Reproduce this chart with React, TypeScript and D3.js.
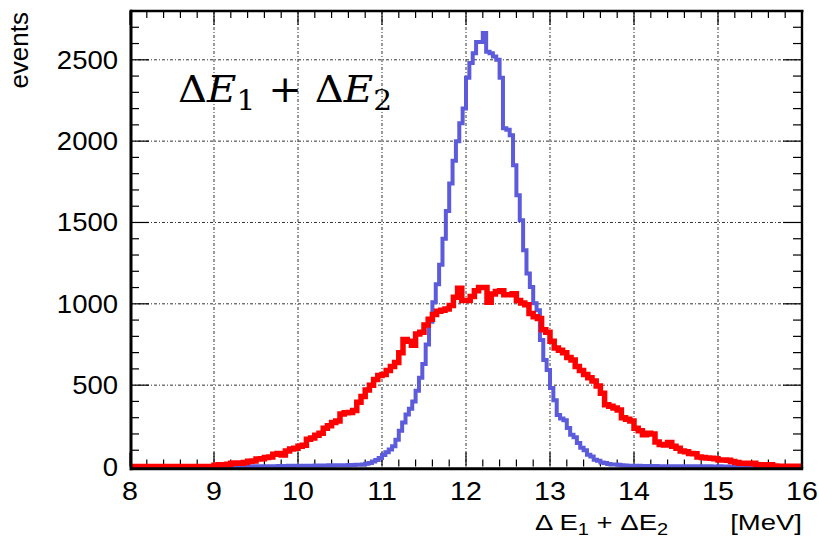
import React from 'react';
import * as d3 from 'd3';

const X_MIN = 8;
const X_MAX = 16;
const Y_MAX = 2800;
const xTickValues = [8, 9, 10, 11, 12, 13, 14, 15, 16];
const yTickValues = [0, 500, 1000, 1500, 2000, 2500];
const xTitle = 'Δ E';
const yTitle = 'events';
const unitLabel = '[MeV]';

// blue histogram: 200 bins of 0.04 MeV from 8 to 16
const blueBinWidth = 0.04;
const blueCounts = [
  0, 0, 0, 0, 0, 0, 0, 0, 0, 0, 0, 0, 0, 0, 0, 0, 0, 0, 0, 0,
  0, 0, 0, 0, 0, 0, 0, 0, 0, 0, 0, 0, 1, 0, 1, 1, 1, 1, 2, 1,
  2, 2, 2, 2, 3, 3, 3, 4, 3, 4, 4, 5, 4, 5, 5, 6, 5, 6, 6, 7,
  6, 7, 7, 8, 8, 9, 9, 10, 10, 12, 17, 22, 30, 40, 52, 70, 88, 105, 125, 165,
  220, 270, 320, 355, 400, 465, 545, 630, 750, 890, 1010, 1120, 1240, 1400, 1570, 1740, 1880, 2000, 2110, 2200,
  2390, 2480, 2540, 2610, 2610, 2665, 2550, 2540, 2520, 2500, 2390, 2080, 2070, 2036, 1852, 1668, 1514, 1330, 1187, 1104,
  1004, 960, 777, 654, 593, 482, 408, 316, 295, 285, 236, 195, 180, 144, 115, 100, 72, 62, 42, 35,
  25, 22, 15, 13, 12, 10, 8, 6, 5, 5, 4, 4, 3, 3, 3, 2, 3, 2, 2, 2,
  2, 1, 2, 1, 1, 1, 1, 1, 0, 1, 1, 0, 1, 0, 0, 1, 0, 0, 0, 0,
  0, 0, 0, 0, 0, 0, 0, 0, 0, 0, 0, 0, 0, 0, 0, 0, 0, 0, 0, 0,
];

// red histogram: 160 bins of 0.05 MeV from 8 to 16
const redBinWidth = 0.05;
const redCounts = [
  0, 0, 0, 0, 0, 0, 0, 0, 0, 0, 0, 0, 0, 0, 0, 0, 0, 0, 0, 0,
  8, 10, 10, 14, 20, 22, 20, 24, 32, 34, 46, 48, 55, 58, 76, 80, 70, 95, 108, 112,
  125, 130, 168, 175, 192, 205, 235, 250, 270, 280, 322, 330, 332, 345, 395, 430, 470, 500, 535, 560,
  565, 590, 615, 640, 700, 780, 770, 745, 815, 825, 870, 905, 935, 955, 960, 968, 990, 1040, 1095, 1020,
  1020, 1045, 1080, 1100, 1100, 1010, 1060, 1075, 1080, 1055, 1055, 1062, 1020, 1005, 995, 940, 920, 910, 840, 825,
  770, 728, 715, 700, 670, 655, 615, 590, 565, 545, 525, 495, 450, 380, 370, 360, 348, 300, 290, 280,
  235, 220, 195, 205, 200, 150, 135, 132, 148, 125, 112, 95, 90, 80, 78, 58, 55, 52, 50, 48,
  40, 40, 38, 30, 25, 20, 20, 18, 20, 10, 10, 8, 10, 3, 2, 2, 1, 2, 1, 2,
];

const BLUE = '#5b5bdc';
const RED = '#ff0000';
const SANS = '"Liberation Sans", Arial, Helvetica, sans-serif';
const SERIF = '"DejaVu Serif", "Liberation Serif", serif';

export default function App() {
  const W = 819;
  const H = 541;
  const left = 130;
  const right = 802;
  const top = 11;
  const bottom = 466.5;

  const x = d3.scaleLinear().domain([X_MIN, X_MAX]).range([left, right]);
  const y = d3.scaleLinear().domain([0, Y_MAX]).range([bottom, top]);

  const histPath = (counts: number[], bw: number) => {
    const pts: [number, number][] = counts.map((c, i) => [X_MIN + i * bw, c]);
    pts.push([X_MIN + counts.length * bw, counts[counts.length - 1]]);
    return d3
      .line<[number, number]>()
      .x((d) => x(d[0]))
      .y((d) => y(d[1]))
      .curve(d3.curveStepAfter)(pts) as string;
  };

  const xMinor = d3.range(0, 41).map((k) => X_MIN + k * 0.2);
  const yMinor = d3.range(0, 29).map((k) => k * 100);

  const gridDash = '3,2,1,2';

  return (
    <svg
      width={W}
      height={H}
      style={{ position: 'absolute', left: 0, top: 0, background: '#fff' }}
    >
      <rect x={0} y={0} width={W} height={H} fill="#fff" />
      {/* grid */}
      {xTickValues
        .filter((v) => v > X_MIN && v < X_MAX)
        .map((v) => (
          <line
            key={'gx' + v}
            x1={x(v)}
            x2={x(v)}
            y1={top}
            y2={bottom}
            stroke="#333"
            strokeWidth={1}
            strokeDasharray={gridDash}
          />
        ))}
      {yTickValues
        .filter((v) => v > 0)
        .map((v) => (
          <line
            key={'gy' + v}
            x1={left}
            x2={right}
            y1={y(v)}
            y2={y(v)}
            stroke="#333"
            strokeWidth={1}
            strokeDasharray={gridDash}
          />
        ))}

      {/* ticks x (bottom and top) */}
      {xMinor.map((v, k) => {
        const major = k % 5 === 0;
        const len = major ? 14 : 7;
        return (
          <g key={'tx' + k}>
            <line x1={x(v)} x2={x(v)} y1={bottom} y2={bottom - len} stroke="#000" strokeWidth={1.2} />
            <line x1={x(v)} x2={x(v)} y1={top} y2={top + len} stroke="#000" strokeWidth={1.2} />
          </g>
        );
      })}
      {/* ticks y (left and right) */}
      {yMinor.map((v, k) => {
        const major = k % 5 === 0;
        const len = major ? 19 : 9;
        return (
          <g key={'ty' + k}>
            <line x1={left} x2={left + len} y1={y(v)} y2={y(v)} stroke="#000" strokeWidth={1.2} />
            <line x1={right} x2={right - len} y1={y(v)} y2={y(v)} stroke="#000" strokeWidth={1.2} />
          </g>
        );
      })}

      {/* histograms */}
      <path d={histPath(blueCounts, blueBinWidth)} fill="none" stroke={BLUE} strokeWidth={4} strokeLinejoin="miter" />
      <path d={histPath(redCounts, redBinWidth)} fill="none" stroke={RED} strokeWidth={5.5} strokeLinejoin="miter" />

      {/* frame */}
      <line x1={left} x2={right + 1.5} y1={top} y2={top} stroke="#000" strokeWidth={2.7} />
      <line x1={right} x2={right} y1={top} y2={bottom + 2} stroke="#000" strokeWidth={2.4} />
      <line x1={left} x2={right + 1.2} y1={bottom + 2.2} y2={bottom + 2.2} stroke="#000" strokeWidth={3} />
      <line x1={left + 1} x2={left + 1} y1={top - 1.3} y2={bottom + 3.7} stroke="#000" strokeWidth={3} />

      {/* tick labels */}
      {yTickValues.map((v) => (
        <g key={'ly' + v} transform={`translate(${left - 12},${y(v) + 9}) scale(1.1,1)`}>
          <text x={0} y={0} textAnchor="end" fontFamily={SANS} fontSize={25} fill="#000">
            {v}
          </text>
        </g>
      ))}
      {xTickValues.map((v) => (
        <g key={'lx' + v} transform={`translate(${x(v)},${499.5}) scale(1.1,1)`}>
          <text x={0} y={0} textAnchor="middle" fontFamily={SANS} fontSize={26} fill="#000">
            {v}
          </text>
        </g>
      ))}

      {/* y title */}
      <text
        transform="translate(28,12) rotate(-90)"
        textAnchor="end"
        fontFamily={SANS}
        fontSize={26}
        fill="#000"
      >
        {yTitle}
      </text>

      {/* x title */}
      <g transform="translate(535,530) scale(1.25,1)">
        <text x={0} y={0} fontFamily={SANS} fontSize={22} fill="#000">
          {xTitle}
          <tspan fontSize={16} dy={5}>1</tspan>
          <tspan dy={-5}>{' + ΔE'}</tspan>
          <tspan fontSize={16} dy={5}>2</tspan>
        </text>
      </g>
      <g transform="translate(802,530) scale(1.25,1)">
        <text x={0} y={0} textAnchor="end" fontFamily={SANS} fontSize={22} fill="#000">
          {unitLabel}
        </text>
      </g>

      {/* in-plot label */}
      <g transform="translate(178,102) scale(1.06,1)">
        <text x={0} y={0} fontFamily={SERIF} fontSize={38} fill="#000">
          Δ<tspan fontStyle="italic">E</tspan>
          <tspan fontSize={28} dy={8}>1</tspan>
          <tspan dy={-8}>{' + Δ'}</tspan>
          <tspan fontStyle="italic">E</tspan>
          <tspan fontSize={28} dy={8}>2</tspan>
        </text>
      </g>
    </svg>
  );
}
